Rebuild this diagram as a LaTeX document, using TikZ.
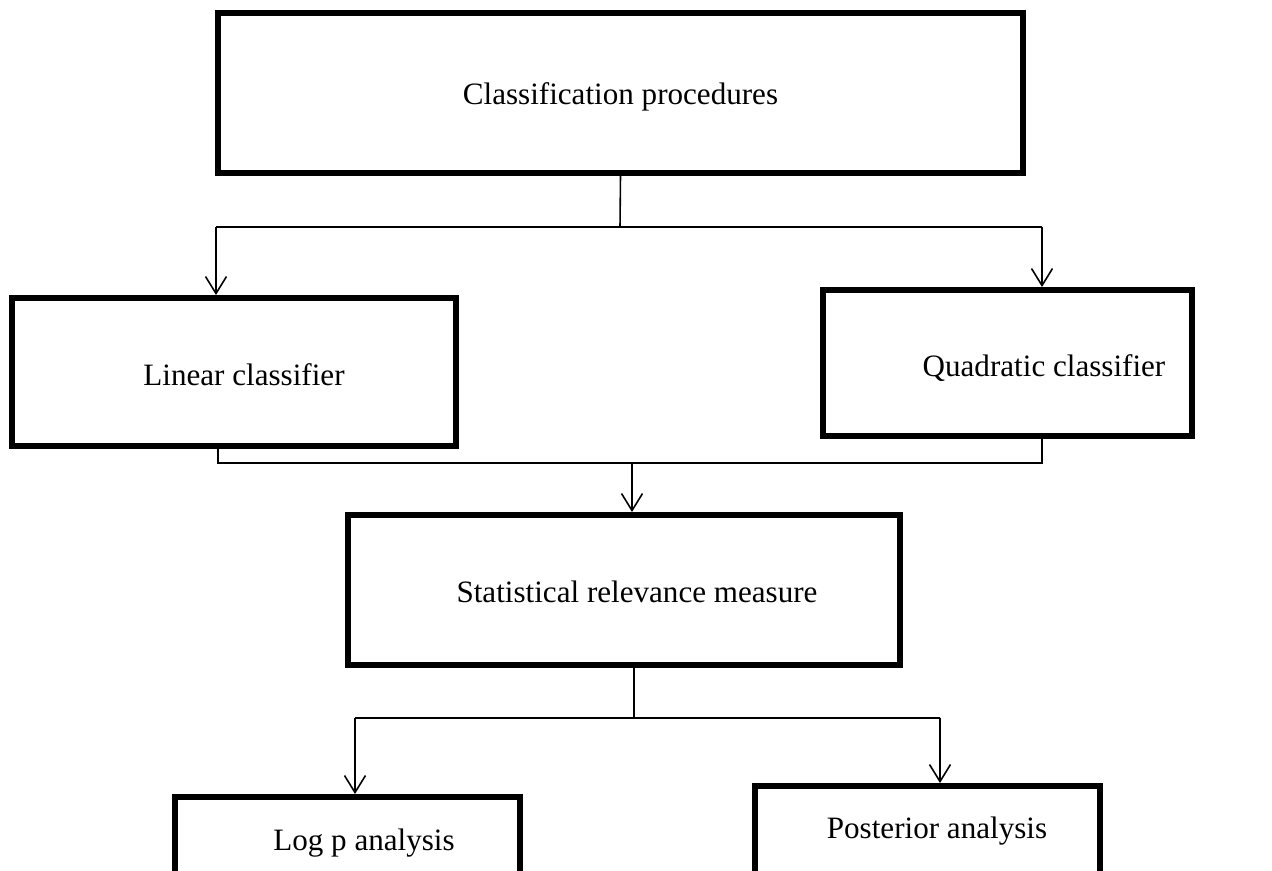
\documentclass[tikz,border=0pt]{standalone}
\usepackage{fontspec}
\setmainfont{Liberation Serif}
\usetikzlibrary{arrows.meta}

\begin{document}
\begin{tikzpicture}[
    x=0.02cm, y=-0.02cm,
    mybox/.style={rectangle, draw=black, line width=3.4pt, inner sep=0pt},
    mylabel/.style={font=\fontsize{17.7}{21}\selectfont},
    myline/.style={line width=0.9pt},
    myarrow/.style={-{Straight Barb[length=0.34cm, width=0.42cm]}, line width=0.9pt}
]
    \fill[white] (0,0) rectangle (1272,871);
    \useasboundingbox (0,0) rectangle (1272,871);
    \clip (0,0) rectangle (1272,871);

    % Top box
    \node[mybox, minimum width=16.1cm, minimum height=3.2cm,
          label={[mylabel, yshift=-0.08cm]center:Classification procedures}] (cls) at (620.5, 93) {};

    % Classifiers
    \node[mybox, minimum width=8.88cm, minimum height=2.96cm,
          label={[mylabel, xshift=0.2cm, yshift=-0.06cm]center:Linear classifier}] (lin) at (234, 372) {};
    \node[mybox, minimum width=7.4cm, minimum height=2.92cm,
          label={[mylabel, xshift=0.73cm, yshift=-0.1cm]center:Quadratic classifier}] (quad) at (1007.5, 363) {};

    % Relevance measure
    \node[mybox, minimum width=11.04cm, minimum height=3.0cm,
          label={[mylabel, xshift=0.26cm, yshift=-0.04cm]center:Statistical relevance measure}] (stat) at (624, 590) {};

    % Analyses (cut off at the bottom)
    \node[mybox, minimum width=6.9cm, minimum height=2.46cm,
          label={[mylabel, xshift=0.33cm, yshift=0.31cm]center:Log p analysis}] (logp) at (347.5, 858.5) {};
    \node[mybox, minimum width=6.9cm, minimum height=2.68cm,
          label={[mylabel, xshift=0.19cm, yshift=0.44cm]center:Posterior analysis}] (post) at (927.5, 853) {};

    % Branch points
    \coordinate (c1) at (620, 227);
    \coordinate (l1) at (216, 227);
    \coordinate (r1) at (1042, 227);
    \coordinate (l2) at (218, 463);
    \coordinate (r2) at (1042, 463);
    \coordinate (c2) at (632, 463);
    \coordinate (c3) at (634, 718);
    \coordinate (l3) at (355, 718);
    \coordinate (r3) at (940, 718);

    \draw[myline] (cls.south) -- (c1);
    \draw[myline] (l1) -- (r1);
    \draw[myarrow] (l1) -- (l1 |- lin.north);
    \draw[myarrow] (r1) -- (r1 |- quad.north);

    \draw[myline] (l2 |- lin.south) -- (l2) -- (r2) -- (r2 |- quad.south);
    \draw[myarrow] (c2) -- (c2 |- stat.north);

    \draw[myline] (c3 |- stat.south) -- (c3);
    \draw[myline] (l3) -- (r3);
    \draw[myarrow] (l3) -- (l3 |- logp.north);
    \draw[myarrow] (r3) -- (r3 |- post.north);
\end{tikzpicture}
\end{document}
